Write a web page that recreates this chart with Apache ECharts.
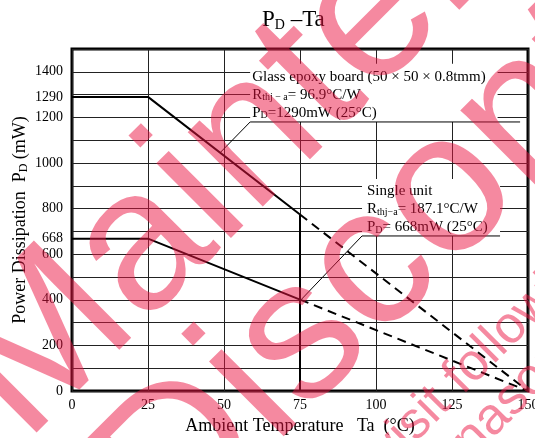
<!DOCTYPE html>
<html style="height: 100%">
<head>
<meta charset="utf-8">
</head>
<body style="height: 100%; margin: 0">
<div id="container" style="width: 535px; height: 438px"></div>
<script src="https://cdn.jsdelivr.net/npm/echarts@6/dist/echarts.min.js"></script>
<script type="text/javascript">
// derating curves (Ta in degC, PD in mW)
var glassSolid = [[0, 1290], [25, 1290], [75, 774]];
var glassDash = [[75, 774], [150, 0]];
var singleSolid = [[0, 668], [25, 668], [75, 401]];
var singleDash = [[75, 401], [150, 0]];
var limit75 = [[75, 0], [75, 774]];

var xTicks = [0, 25, 50, 75, 100, 125, 150];
var yLabels = [0, 200, 400, 600, 668, 800, 1000, 1200, 1290, 1400];

// annotation boxes and leaders (data coords)
var glassBox = [[58.6, 1435], [140, 1180]];
var glassLeader = [[147.4, 1180], [58.6, 1180], [48.7, 1045]];
var singleBox = [[95.4, 930], [140.8, 680]];
var singleLeader = [[140.8, 680], [95.4, 680], [75.4, 401]];

var serif = '"Liberation Serif", "DejaVu Serif", serif';
var pink = 'rgba(235, 20, 65, 0.5)';

var dom = document.getElementById('container');
var myChart = echarts.init(dom);

function deg(d) { return d * Math.PI / 180; }

var subRich = {
    t: { fontFamily: serif, fontSize: 15, color: '#000' },
    sub: { fontFamily: serif, fontSize: 10, color: '#000', padding: [6, 0, 0, 0] }
};

function mark(text, x, y, size) {
    return {
        type: 'text', x: x, y: y, rotation: deg(45), z: 100, silent: true,
        style: {
            text: text, fill: pink, font: size + 'px "Liberation Sans"',
            textAlign: 'left', verticalAlign: 'middle', textVerticalAlign: 'middle'
        }
    };
}

var option = {
    backgroundColor: '#fff',
    animation: false,
    title: {
        left: 257,
        top: 3,
        text: '{p|P}{d|D}{p| –Ta}',
        textStyle: {
            fontWeight: 'normal',
            rich: {
                p: { fontFamily: serif, fontSize: 23, color: '#000' },
                d: { fontFamily: serif, fontSize: 14, color: '#000', padding: [10, 0, 0, 0] }
            }
        }
    },
    grid: {
        left: 72, right: 7, top: 49, bottom: 47,
        outerBoundsMode: 'none', containLabel: false,
        show: true, borderColor: '#000', borderWidth: 3
    },
    xAxis: {
        type: 'value', min: 0, max: 150, interval: 25,
        name: 'Ambient Temperature   Ta  (°C)',
        nameLocation: 'middle', nameGap: 26,
        nameTextStyle: { fontFamily: serif, fontSize: 18, color: '#000' },
        axisLine: { show: false },
        axisTick: { show: false },
        axisLabel: { fontFamily: serif, fontSize: 14, color: '#000', margin: 7 },
        splitLine: { lineStyle: { color: '#222', width: 1 } }
    },
    yAxis: {
        type: 'value', min: 0, max: 1500, interval: 100,
        name: '{t|Power Dissipation  P}{sub|D}{t| (mW)}',
        nameLocation: 'middle', nameGap: 42, nameMoveOverlap: false,
        nameTextStyle: { rich: {
            t: { fontFamily: serif, fontSize: 18, color: '#000' },
            sub: { fontFamily: serif, fontSize: 12, color: '#000', padding: [7, 0, 0, 0] }
        } },
        axisLine: { show: false },
        axisTick: { show: false },
        axisLabel: {
            customValues: yLabels, fontFamily: serif, fontSize: 14, color: '#000', margin: 9,
            formatter: function (v) { return String(v); }
        },
        splitLine: { lineStyle: { color: '#222', width: 1 } }
    },
    series: [{
        type: 'line', data: [], z: 2, silent: true,
        markArea: {
            silent: true,
            itemStyle: { color: '#fff' },
            label: { show: true, position: 'insideTopLeft', distance: 0 },
            data: [
                [{
                    coord: glassBox[0],
                    label: {
                        offset: [2, 4],
                        formatter: '{t|Glass epoxy board (50 × 50 × 0.8tmm)}\n{t|R}{sub|thj − a}{t|= 96.9°C/W}\n{t|P}{sub|D}{t|=1290mW (25°C)}',
                        lineHeight: 18, rich: subRich
                    }
                }, { coord: glassBox[1] }],
                [{
                    coord: singleBox[0],
                    label: {
                        offset: [5, 3],
                        formatter: '{t|Single unit}\n{t|R}{sub|thj−a}{t|= 187.1°C/W}\n{t|P}{sub|D}{t|= 668mW (25°C)}',
                        lineHeight: 18, rich: subRich
                    }
                }, { coord: singleBox[1] }]
            ]
        }
    }, {
        type: 'line', data: glassLeader, symbol: 'none', z: 4, silent: true,
        lineStyle: { color: '#000', width: 1 }
    }, {
        type: 'line', data: singleLeader, symbol: 'none', z: 4, silent: true,
        lineStyle: { color: '#000', width: 1 }
    }, {
        type: 'line', data: glassSolid, symbol: 'none', z: 5,
        lineStyle: { color: '#000', width: 2 }
    }, {
        type: 'line', data: glassDash, symbol: 'none', z: 5,
        lineStyle: { color: '#000', width: 2, type: [9, 6] }
    }, {
        type: 'line', data: singleSolid, symbol: 'none', z: 5,
        lineStyle: { color: '#000', width: 2 }
    }, {
        type: 'line', data: singleDash, symbol: 'none', z: 5,
        lineStyle: { color: '#000', width: 2, type: [9, 6] }
    }, {
        type: 'line', data: limit75, symbol: 'none', z: 5,
        lineStyle: { color: '#000', width: 2 }
    }],
    graphic: [
        mark('Maintenance/', -14, 405, 200),
        mark('Discontinued', 133, 509, 200),
        mark('visit following URL about latest information.', 379, 459, 52),
        mark('panasonic.co.jp/en/', 421, 490, 52)
    ]
};

myChart.setOption(option, true);
</script>
</body>
</html>
